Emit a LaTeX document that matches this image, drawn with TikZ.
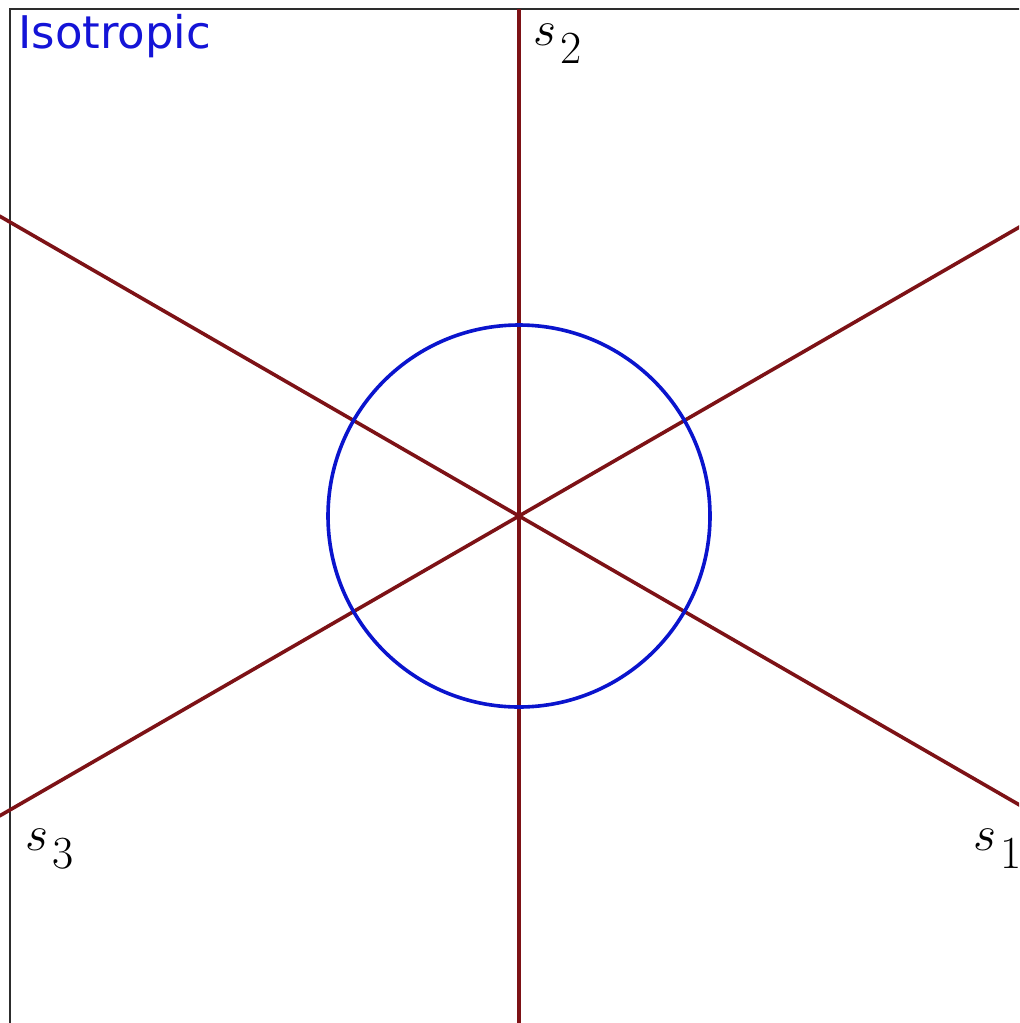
\documentclass[tikz,border=0pt]{standalone}
\usepackage{fontspec}
\newfontfamily\dejavu{DejaVu Sans}
\definecolor{axisred}{RGB}{125,18,22}
\definecolor{circblue}{RGB}{10,20,205}
\definecolor{textblue}{RGB}{20,20,215}
\definecolor{framegray}{RGB}{45,45,45}
\newcommand{\slab}[1]{$s$\kern2pt\raisebox{-9pt}{\fontsize{23}{28}\selectfont #1}}
\tikzset{
  frameline/.style={draw=framegray, line width=1.4pt},
  axisline/.style={draw=axisred, line width=1.8pt},
  circline/.style={draw=circblue, line width=1.8pt},
  slabel/.style={inner sep=0pt, anchor=base west, font=\fontsize{29}{34}\selectfont},
}
\begin{document}
\begin{tikzpicture}[x=0.5pt,y=-0.5pt]
\useasboundingbox (0,0) rectangle (1019,1023);
\clip (0,0) rectangle (1019,1023);
\fill[white] (0,0) rectangle (1019,1023);
% frame
\coordinate (FBL) at (10,1030);
\coordinate (FTL) at (10,9);
\coordinate (FTR) at (1030,9);
\draw[frameline] (FBL) -- (FTL) -- (FTR);
% center and axis ends
\coordinate (O) at (519,516);
\coordinate (T) at (519,9);
\coordinate (B) at (519,1030);
\path (O) ++(-519.6,-300) coordinate (UL);
\path (O) ++(519.6,300) coordinate (LR);
\path (O) ++(-519.6,300) coordinate (LL);
\path (O) ++(519.6,-300) coordinate (UR);
\draw[axisline] (T) -- (B);
\draw[axisline] (UL) -- (LR);
\draw[axisline] (LL) -- (UR);
% circle
\node[circle, circline, minimum size=191pt, inner sep=0pt] (C) at (O) {};
% labels
\node[slabel] (s2) at (533,45) {\slab{2}};
\node[slabel] (s3) at (25,850) {\slab{3}};
\node[slabel] (s1) at (973,850) {\slab{1}};
\node[inner sep=0pt, anchor=base west, text=textblue, font=\dejavu\fontsize{22.5}{27}\selectfont] (iso) at (18,48) {Isotropic};
\end{tikzpicture}
\end{document}
